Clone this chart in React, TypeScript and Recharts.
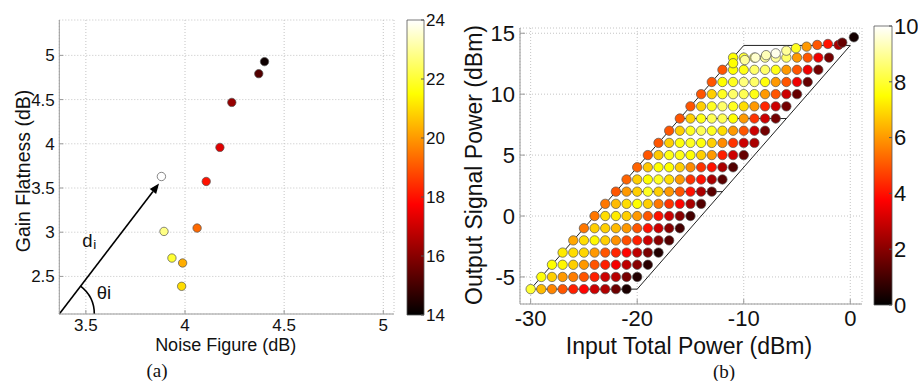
import React from 'react';
import {
  ScatterChart, Scatter, XAxis, YAxis, CartesianGrid, ReferenceLine,
  ReferenceArea, ComposedChart, Label,
} from 'recharts';

const FONT = '"Liberation Sans", Arial, sans-serif';

// ---------------- Panel (a) data ----------------
const NOISE_FIGURE = [4.401, 4.372, 4.236, 4.176, 4.107, 3.881, 4.061, 3.894, 3.934, 3.988, 3.983];
const GAIN_FLATNESS = [4.929, 4.793, 4.468, 3.959, 3.574, 3.630, 3.047, 3.009, 2.708, 2.652, 2.388];
const COLOR_VALUE_A = [14.2, 15.2, 16.2, 17.3, 18.0, 24.0, 19.3, 22.8, 22.0, 20.3, 21.0];
const A_X_DOMAIN = [3.366, 5.054];
const A_Y_DOMAIN = [2.075, 5.40];
const A_X_TICKS = [3.5, 4, 4.5, 5];
const A_Y_TICKS = [2.5, 3, 3.5, 4, 4.5, 5];
const A_CBAR_DOMAIN = [14, 24];
const A_CBAR_TICKS = [14, 16, 18, 20, 22, 24];
const A_ARROW_TIP = [3.869, 3.55];

// ---------------- Panel (b) data ----------------
const ROW_OUTPUT = [-6, -5, -4, -3, -2, -1, 0, 1, 2, 3, 4, 5, 6, 7, 8, 9, 10, 11, 12, 13];
const ROW_INPUT_START = [-30, -29, -28, -27, -26, -25, -24, -23, -22, -21, -20, -19, -18, -17, -16, -15, -14, -13, -12, -11];
const ROW_VALUES = [
  [8.0, 6.5, 5.7, 5.0, 4.2, 3.8, 3.0, 2.6, 1.6, 0.4],
  [7.6, 6.8, 6.0, 5.6, 5.0, 4.2, 3.0, 2.7, 1.8, 0.5],
  [7.5, 7.4, 6.8, 6.0, 5.0, 4.2, 3.6, 2.8, 2.0, 0.6],
  [7.2, 7.0, 6.9, 6.0, 5.0, 4.3, 3.8, 2.8, 1.8, 0.5],
  [6.2, 7.0, 7.4, 6.8, 5.9, 4.9, 4.2, 3.0, 2.0, 1.2],
  [5.5, 6.8, 6.8, 6.5, 6.0, 5.0, 4.0, 3.0, 2.0, 1.0],
  [5.5, 7.0, 7.2, 6.8, 6.0, 5.0, 4.0, 3.0, 2.0, 1.0],
  [5.5, 6.5, 7.0, 7.5, 6.8, 5.5, 4.5, 3.8, 2.5, 1.2],
  [5.0, 6.0, 6.8, 7.8, 6.8, 6.0, 5.0, 4.0, 2.5, 1.3],
  [5.2, 6.8, 7.5, 7.8, 7.0, 6.0, 4.5, 4.0, 2.5, 1.3],
  [5.2, 6.7, 7.5, 7.5, 6.8, 5.8, 4.5, 4.0, 2.5, 1.2],
  [5.0, 6.7, 7.7, 7.7, 7.5, 6.8, 6.0, 4.2, 3.0, 1.5],
  [5.0, 6.8, 7.6, 7.8, 7.6, 6.8, 5.8, 4.5, 3.0, 2.5],
  [5.0, 6.8, 7.8, 8.3, 7.8, 7.0, 6.0, 5.0, 3.0, 1.7],
  [5.0, 6.8, 7.7, 8.3, 8.3, 7.5, 6.0, 4.5, 3.0, 1.7],
  [5.0, 6.8, 7.8, 8.5, 7.8, 7.0, 6.0, 4.3, 3.0, 1.7],
  [5.0, 6.8, 7.8, 8.5, 8.3, 7.7, 6.0, 5.0, 3.0, 1.5],
  [5.0, 7.5, 7.8, 8.7, 8.5, 7.6, 6.0, 5.0, 3.5, 1.5],
  [5.0, 7.5, 7.7, 8.5, 8.5, 7.7, 6.0, 5.0, 3.5, 1.7],
  [7.5, 8.0, 8.5, 9.0, 9.0, 8.5, 6.0, 5.0, 3.5, 1.7],
];
const TOP_INPUT = [-11, -9.9, -8.9, -7.9, -7.0, -6.0, -5.1, -4.1, -3.1, -2.1, -1.1, -0.75, 0.34];
const TOP_OUTPUT = [12.54, 12.8, 13.0, 13.2, 13.35, 13.57, 13.77, 13.9, 14.04, 14.12, 14.04, 14.23, 14.67];
const TOP_VALUE = [7.5, 9.0, 9.5, 9.3, 9.8, 9.0, 7.8, 6.0, 5.0, 4.0, 2.5, 1.5, 0.3];
const B_X_DOMAIN = [-31, 1.1];
const B_Y_DOMAIN = [-7.22, 15.43];
const B_X_TICKS = [-30, -20, -10, 0];
const B_Y_TICKS = [-5, 0, 5, 10, 15];
const B_CBAR_DOMAIN = [0, 10];
const B_CBAR_TICKS = [0, 2, 4, 6, 8, 10];
// region outline segments [x1, y1, x2, y2]
const B_LINES = [
  [-30, -6, -10, 14],
  [-20, -6, 0, 14],
  [-30, -6, -20, -6],
  [-22, 2, -12, 2],
  [-16, 8, -6, 8],
  [-10, 14, 0, 14],
];

// ---------------- helpers ----------------
const clamp = (v: number) => Math.max(0, Math.min(1, v));
const hot = (t: number) => {
  const r = clamp(t / 0.375);
  const g = clamp((t - 0.375) / 0.375);
  const b = clamp((t - 0.75) / 0.25);
  return `rgb(${Math.round(r * 255)},${Math.round(g * 255)},${Math.round(b * 255)})`;
};
const hotA = (v: number) => hot((v - A_CBAR_DOMAIN[0]) / (A_CBAR_DOMAIN[1] - A_CBAR_DOMAIN[0]));
const hotB = (v: number) => hot((v - B_CBAR_DOMAIN[0]) / (B_CBAR_DOMAIN[1] - B_CBAR_DOMAIN[0]));

const dataA = NOISE_FIGURE.map((x, i) => ({ x, y: GAIN_FLATNESS[i], c: COLOR_VALUE_A[i] }));
const dataB: { x: number; y: number; c: number }[] = [];
ROW_OUTPUT.forEach((y, r) => {
  ROW_VALUES[r].forEach((c, i) => dataB.push({ x: ROW_INPUT_START[r] + i, y, c }));
});
TOP_INPUT.forEach((x, i) => dataB.push({ x, y: TOP_OUTPUT[i], c: TOP_VALUE[i] }));

const dot = (r: number, cmap: (v: number) => string) => (p: any) => {
  if (p == null || p.cx == null) return <g />;
  return (
    <circle cx={p.cx} cy={p.cy} r={r} fill={cmap(p.payload.c)} stroke="#555" strokeWidth={0.7} />
  );
};

const arrowShape = (p: any) => {
  const { x1, y1, x2, y2 } = p;
  if (x1 == null) return <g />;
  const ang = Math.atan2(y2 - y1, x2 - x1);
  const L = 10, W = 4;
  const bx = x2 - L * Math.cos(ang), by = y2 - L * Math.sin(ang);
  const px = -Math.sin(ang) * W, py = Math.cos(ang) * W;
  const R = 35;
  const ax = x1 + R * Math.cos(ang), ay = y1 + R * Math.sin(ang);
  return (
    <g>
      <line x1={x1} y1={y1} x2={bx} y2={by} stroke="#000" strokeWidth={1.6} />
      <polygon points={`${x2},${y2} ${bx + px},${by + py} ${bx - px},${by - py}`} fill="#000" />
      <path d={`M ${x1 + R} ${y1} A ${R} ${R} 0 0 0 ${ax} ${ay}`} fill="none" stroke="#000" strokeWidth={1.6} />
      <text x={x1 + 23} y={y1 - 67.5} fontFamily={FONT} fontSize={18.5} fill="#111">d</text>
      <text x={x1 + 34} y={y1 - 65} fontFamily={FONT} fontSize={13.5} fill="#111">i</text>
      <text x={x1 + 37.5} y={y1 - 15.5} fontFamily={FONT} fontSize={18.5} fill="#111">θi</text>
    </g>
  );
};

const axisColor = '#9a9a9a';
const gridColor = '#c4c4c4';

const xLabel = (text: string, dy: number, dx: number, size: number) => (props: any) => {
  const vb = props.viewBox || {};
  return (
    <text x={vb.x + vb.width / 2 + dx} y={vb.y + dy} textAnchor="middle" dominantBaseline="central"
      fontFamily={FONT} fontSize={size} fill="#111">{text}</text>
  );
};
const yLabel = (text: string, dx: number, dy: number, size: number) => (props: any) => {
  const vb = props.viewBox || {};
  const cx = vb.x + dx, cy = vb.y + vb.height / 2 + dy;
  return (
    <text x={cx} y={cy} textAnchor="middle" dominantBaseline="central" transform={`rotate(-90, ${cx}, ${cy})`}
      fontFamily={FONT} fontSize={size} fill="#111">{text}</text>
  );
};

const Colorbar = ({ left, top, width, height, margin, domain, ticks, axisWidth, fontSize, gradId }: any) => (
  <div style={{ position: 'absolute', left, top }}>
    <ComposedChart width={width} height={height} margin={margin} data={[{ x: 0 }, { x: 1 }]}>
      <XAxis type="number" dataKey="x" domain={[0, 1]} hide />
      <YAxis orientation="right" type="number" domain={domain} ticks={ticks} interval={0}
        width={axisWidth} axisLine={false} tickSize={-3} tickMargin={5}
        tickLine={{ stroke: '#555' }}
        tick={{ fontFamily: FONT, fontSize, fill: '#111', textAnchor: 'start' }} allowDataOverflow />
      <ReferenceArea x1={0} x2={1} y1={domain[0]} y2={domain[1]} fill={`url(#${gradId})`} fillOpacity={1}
        stroke="#555" strokeWidth={0.8} ifOverflow="visible" />
    </ComposedChart>
  </div>
);

export default function App() {
  return (
    <div style={{ position: 'absolute', left: 0, top: 0, width: 918, height: 381, background: '#fff', overflow: 'hidden' }}>
      <svg width={0} height={0} style={{ position: 'absolute' }}>
        <defs>
          <linearGradient id="hotGrad" x1="0" y1="1" x2="0" y2="0">
            <stop offset="0" stopColor="#000000" />
            <stop offset="0.375" stopColor="#ff0000" />
            <stop offset="0.75" stopColor="#ffff00" />
            <stop offset="1" stopColor="#ffffff" />
          </linearGradient>
        </defs>
      </svg>

      {/* Panel (a) */}
      <div style={{ position: 'absolute', left: 0, top: 0 }}>
        <ScatterChart width={400} height={381} margin={{ top: 20, right: 6, bottom: 27, left: 0 }}>
          <CartesianGrid stroke={gridColor} strokeDasharray="1 2" />
          <XAxis type="number" dataKey="x" domain={A_X_DOMAIN} ticks={A_X_TICKS} interval={0} height={40}
            allowDataOverflow axisLine={{ stroke: axisColor }} tickLine={{ stroke: axisColor }}
            tickSize={-4} tickMargin={9}
            tick={{ fontFamily: FONT, fontSize: 17, fill: '#111' }}>
            <Label content={xLabel('Noise Figure (dB)', 31, -1, 18)} />
          </XAxis>
          <YAxis type="number" dataKey="y" domain={A_Y_DOMAIN} ticks={A_Y_TICKS} interval={0} width={59.3}
            allowDataOverflow axisLine={{ stroke: axisColor }} tickLine={{ stroke: axisColor }}
            tickSize={-4} tickMargin={8.5}
            tick={{ fontFamily: FONT, fontSize: 17, fill: '#111' }}>
            <Label content={yLabel('Gain Flatness (dB)', 23, 4, 19.5)} />
          </YAxis>
          <Scatter data={dataA} isAnimationActive={false} shape={dot(4.2, hotA)} />
          <ReferenceLine ifOverflow="visible"
            segment={[{ x: A_X_DOMAIN[0], y: A_Y_DOMAIN[0] }, { x: A_ARROW_TIP[0], y: A_ARROW_TIP[1] }]}
            shape={arrowShape} />
        </ScatterChart>
      </div>
      <Colorbar left={400} top={0} width={60} height={381} margin={{ top: 20, right: 0, bottom: 66, left: 7 }}
        domain={A_CBAR_DOMAIN} ticks={A_CBAR_TICKS} axisWidth={36} fontSize={17} gradId="hotGrad" />

      {/* Panel (b) */}
      <div style={{ position: 'absolute', left: 440, top: 0 }}>
        <ScatterChart width={430} height={381} margin={{ top: 28, right: 8, bottom: 27, left: 0 }}>
          <CartesianGrid stroke={gridColor} strokeDasharray="1 2" />
          <XAxis type="number" dataKey="x" domain={B_X_DOMAIN} ticks={B_X_TICKS} interval={0} height={50}
            allowDataOverflow axisLine={{ stroke: axisColor }} tickLine={{ stroke: axisColor }}
            tickSize={-5} tickMargin={11}
            tick={{ fontFamily: FONT, fontSize: 22, fill: '#111' }}>
            <Label content={xLabel('Input Total Power (dBm)', 42, -2, 23)} />
          </XAxis>
          <YAxis type="number" dataKey="y" domain={B_Y_DOMAIN} ticks={B_Y_TICKS} interval={0} width={80}
            allowDataOverflow axisLine={{ stroke: axisColor }} tickLine={{ stroke: axisColor }}
            tickSize={-5} tickMargin={10}
            tick={{ fontFamily: FONT, fontSize: 22, fill: '#111' }}>
            <Label content={yLabel('Output Signal Power (dBm)', 34, -1, 23)} />
          </YAxis>
          <Scatter data={dataB} isAnimationActive={false} shape={dot(4.7, hotB)} />
          {B_LINES.map((s, i) => (
            <ReferenceLine key={i} ifOverflow="visible"
              segment={[{ x: s[0], y: s[1] }, { x: s[2], y: s[3] }]}
              stroke="#222" strokeWidth={1} />
          ))}
        </ScatterChart>
      </div>
      <Colorbar left={860} top={0} width={58} height={381} margin={{ top: 26, right: 0, bottom: 76, left: 14 }}
        domain={B_CBAR_DOMAIN} ticks={B_CBAR_TICKS} axisWidth={26} fontSize={22} gradId="hotGrad" />

      {/* captions */}
      <div style={{ position: 'absolute', left: 137, top: 360, width: 40, textAlign: 'center', fontFamily: '"Liberation Serif", "Times New Roman", serif', fontSize: 19, lineHeight: '22px', color: '#111' }}>(a)</div>
      <div style={{ position: 'absolute', left: 704, top: 361, width: 40, textAlign: 'center', fontFamily: '"Liberation Serif", "Times New Roman", serif', fontSize: 19, lineHeight: '22px', color: '#111' }}>(b)</div>
    </div>
  );
}
